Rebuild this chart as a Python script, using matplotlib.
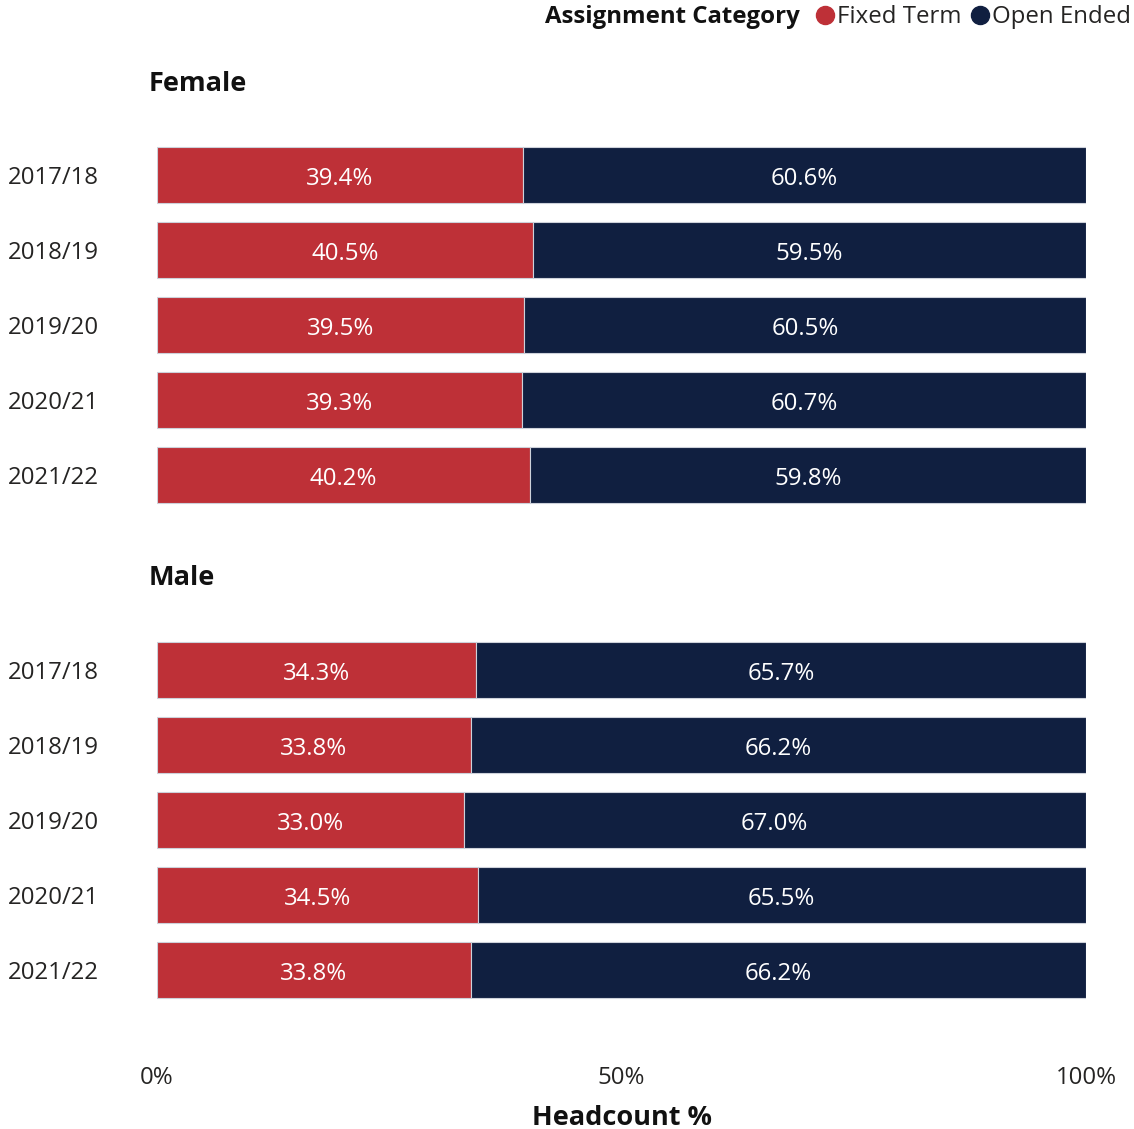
import matplotlib
matplotlib.use("Agg")
import matplotlib.pyplot as plt
from matplotlib.lines import Line2D

plt.rcParams['font.family'] = ['Open Sans', 'DejaVu Sans']

years = ["2017/18", "2018/19", "2019/20", "2020/21", "2021/22"]
female_fixed = [39.4, 40.5, 39.5, 39.3, 40.2]
female_open = [60.6, 59.5, 60.5, 60.7, 59.8]
male_fixed = [34.3, 33.8, 33.0, 34.5, 33.8]
male_open = [65.7, 66.2, 67.0, 65.5, 66.2]
x_ticks = [0, 50, 100]
x_tick_labels = ["0%", "50%", "100%"]

RED = "#BE3037"
NAVY = "#101F40"
EDGE = "#cdd1da"
FS = 17.3
TFS = 19.5

W, H = 1134, 1129
fig = plt.figure(figsize=(W / 100, H / 100), dpi=100)

def px_axes(left, top, right, bottom):
    return fig.add_axes([left / W, 1 - bottom / H, (right - left) / W, (bottom - top) / H])

panels = [
    ("Female", female_fixed, female_open, 137.5, 512.5, 84),
    ("Male", male_fixed, male_open, 632.5, 1007.5, 578),
]

axes = []
for name, fixed, opn, top, bottom, ty in panels:
    ax = px_axes(157, top, 1086, bottom)
    axes.append(ax)
    ypos = list(range(len(years)))
    b1 = ax.barh(ypos, fixed, height=0.75, color=RED, edgecolor=EDGE, linewidth=0.8)
    b2 = ax.barh(ypos, opn, left=fixed, height=0.75, color=NAVY, edgecolor=EDGE, linewidth=0.8)
    for bars, vals in ((b1, fixed), (b2, opn)):
        for rect, v in zip(bars, vals):
            ax.annotate(f"{v:.1f}%", (rect.get_x() + rect.get_width() / 2,
                                      rect.get_y() + rect.get_height() / 2),
                        xytext=(0, -4), textcoords='offset pixels',
                        ha='center', va='center', color='white', fontsize=FS)
    ax.set_xlim(0, 100)
    ax.set_ylim(len(years) - 0.5, -0.5)
    ax.set_yticks(ypos)
    ax.set_yticklabels(years, fontsize=FS, color='#252423', ha='left')
    ax.tick_params(axis='y', length=0, pad=149 * 0.72)
    for s in ax.spines.values():
        s.set_visible(False)
    fig.text(149 / W, 1 - ty / H, name, fontsize=TFS, fontweight='bold', va='center', ha='left',
             color='#111111')

axes[0].set_xticks([])
axm = axes[1]
axm.set_xticks(x_ticks)
axm.set_xticklabels(x_tick_labels, fontsize=FS, color='#252423')
axm.tick_params(axis='x', length=0, pad=58 * 0.72)
fig.text(622 / W, 1 - 1118 / H, "Headcount %", fontsize=TFS, fontweight='bold',
         ha='center', va='center', color='#111111')

# legend
fig.text(800 / W, 1 - 17 / H, "Assignment Category", fontsize=FS, fontweight='bold',
         ha='right', va='center', color='#111111')
handles = [Line2D([], [], marker='o', linestyle='none', markersize=13, color=RED),
           Line2D([], [], marker='o', linestyle='none', markersize=13, color=NAVY)]
fig.legend(handles, ["Fixed Term", "Open Ended"], loc='center right',
           bbox_to_anchor=(1153 / W, 1 - 17 / H), ncol=2, frameon=False,
           fontsize=FS, handletextpad=0.0, columnspacing=0.3, handlelength=1.0,
           labelcolor='#252423')

fig.savefig("out.png", dpi=100)
